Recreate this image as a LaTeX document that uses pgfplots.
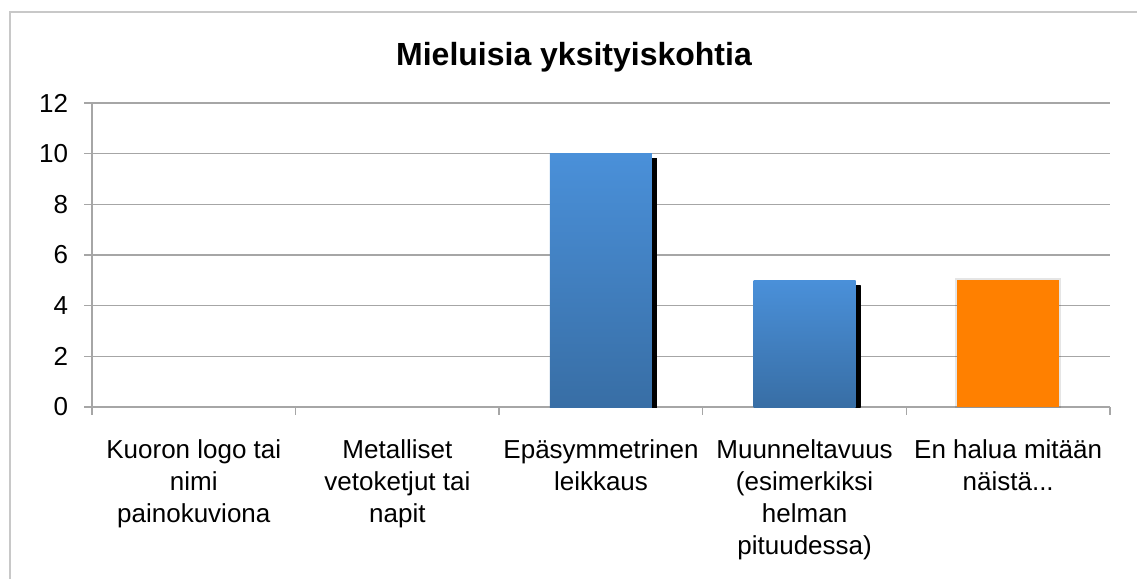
\documentclass[border=0pt]{standalone}
\usepackage{fontspec}
\setmainfont{Liberation Sans}
\usepackage{pgfplots}
\pgfplotsset{compat=1.18}
\usetikzlibrary{shadows}

\definecolor{gridgray}{RGB}{166,166,166}
\definecolor{framegray}{RGB}{200,200,200}
\definecolor{bartop}{RGB}{74,144,217}
\definecolor{barbottom}{RGB}{56,110,165}
\definecolor{barorange}{RGB}{255,128,0}
\newcommand{\threedots}{...}

\begin{document}
\begin{tikzpicture}
\useasboundingbox (-46pt,-86pt) rectangle (522.5pt,203.5pt);
\draw[framegray, line width=0.6pt] (-41pt,-90pt) -- (-41pt,197.5pt) -- (530pt,197.5pt);
\begin{axis}[
  at={(0pt,0pt)}, anchor=south west,
  scale only axis, width=509pt, height=152pt,
  xmin=-0.5, xmax=4.5, ymin=0, ymax=12,
  axis lines=left, axis line style={gridgray, line width=0.7pt, -},
  xtick={-0.5,0.5,1.5,2.5,3.5,4.5},
  x tick label as interval,
  xticklabels={{Kuoron logo tai\\nimi\\painokuviona},{Metalliset\\vetoketjut tai\\napit},{Epäsymmetrinen\\leikkaus},{Muunneltavuus\\(esimerkiksi\\helman\\pituudessa)},{En halua mitään\\näistä\threedots}},
  ytick={0,2,4,6,8,10,12},
  tick align=outside, major tick length=3.75pt,
  tick style={gridgray, line width=0.7pt},
  ymajorgrids, grid style={gridgray, line width=0.7pt},
  /pgf/number format/assume math mode=true,
  tick label style={font=\fontsize{13}{16}\selectfont},
  xticklabel style={align=center, anchor=north, inner sep=0pt, yshift=-12.5pt},
  yticklabel style={anchor=east, inner sep=0pt, xshift=-8pt},
  title={Mieluisia yksityiskohtia},
  title style={at={(axis description cs:0.4735,1)}, anchor=base, yshift=13pt, font=\bfseries\fontsize{16}{19}\selectfont},
  every axis plot/.append style={ybar, bar width=51pt, bar shift=0pt},
]
\addplot[draw=none, fill=none] coordinates {(0,0) (1,0)};
\addplot[draw=none, top color=bartop, bottom color=barbottom,
  drop shadow={shadow xshift=2.5pt, shadow yshift=-2.5pt, top color=black, bottom color=black, opacity=1}] coordinates {(2,10)};
\addplot[draw=none, top color=bartop, bottom color=barbottom,
  drop shadow={shadow xshift=2.5pt, shadow yshift=-2.5pt, top color=black, bottom color=black, opacity=1}] coordinates {(3,5)};
\addplot[draw=none, fill=barorange,
  drop shadow={shadow xshift=0pt, shadow yshift=0pt, shadow scale=1.035, fill=black, opacity=0.1}] coordinates {(4,5)};
\end{axis}
\end{tikzpicture}
\end{document}
